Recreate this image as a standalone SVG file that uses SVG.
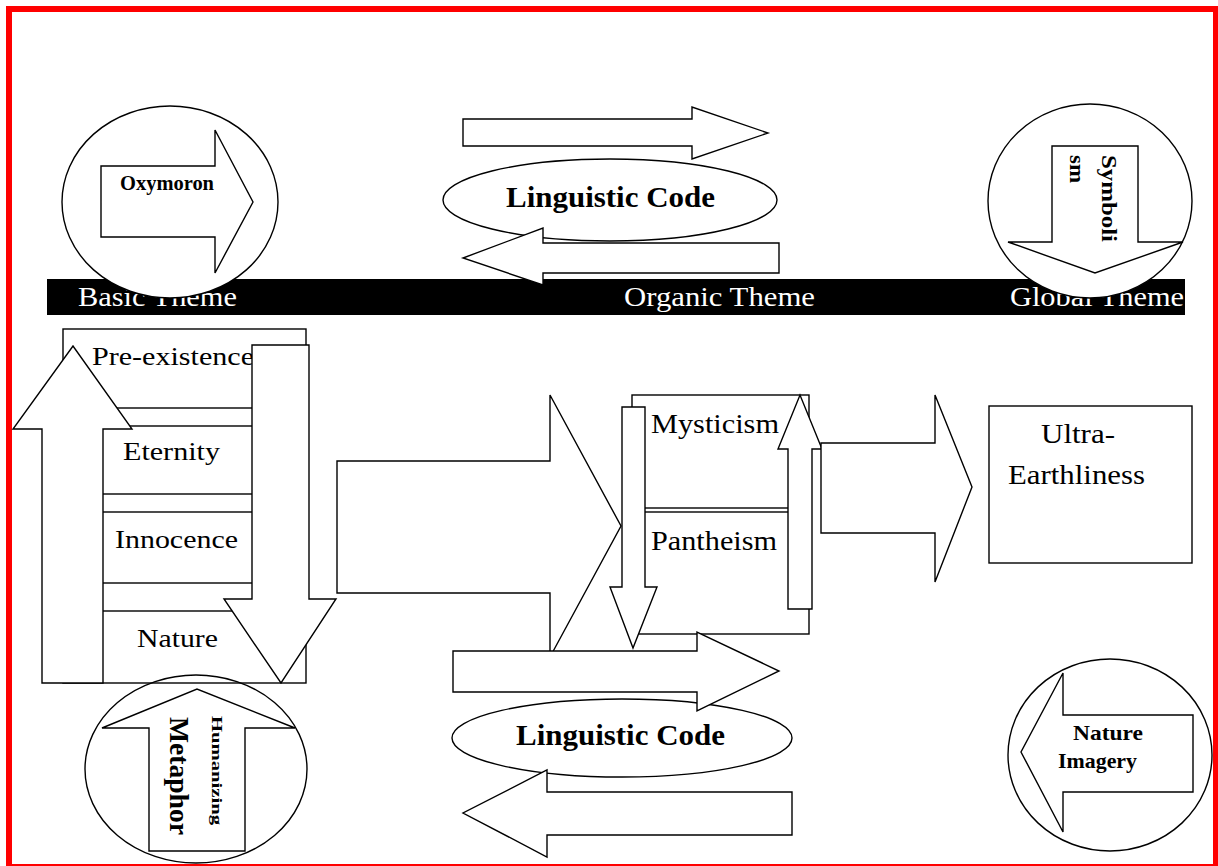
<svg xmlns="http://www.w3.org/2000/svg" width="1218" height="866" viewBox="0 0 1218 866">
<style>
.s{fill:#fff;stroke:#000;stroke-width:1.4}
.n{fill:none;stroke:#000;stroke-width:1.4}
.t{font-family:"Liberation Serif","Times New Roman",serif;fill:#000}
.b{font-weight:bold}
.w{fill:#fff}
</style>
<rect x="0" y="0" width="1218" height="866" fill="#fff"/>
<rect x="9" y="9" width="1207" height="858" fill="none" stroke="#f00" stroke-width="6"/>

<g id="theme-bar">
<rect x="47" y="279" width="1138" height="36" fill="#000"/>
<text class="t w" x="78" y="306" font-size="28" textLength="159" lengthAdjust="spacingAndGlyphs">Basic Theme</text>
<text class="t w" x="624" y="306" font-size="28" textLength="191" lengthAdjust="spacingAndGlyphs">Organic Theme</text>
<text class="t w" x="1010" y="306" font-size="28" textLength="174" lengthAdjust="spacingAndGlyphs">Global Theme</text>
</g>

<g id="oxymoron">
<ellipse class="s" cx="170" cy="202" rx="108" ry="96"/>
<path class="s" d="M101,166 H215 V130 L253,202 L215,273 V237 H101 Z"/>
<text class="t b" x="120" y="190" font-size="20" textLength="94" lengthAdjust="spacingAndGlyphs">Oxymoron</text>
</g>

<g id="symbolism">
<ellipse class="s" cx="1090" cy="201" rx="102" ry="97"/>
<path class="s" d="M1052,146 H1138 V242 H1183 L1095,273 L1008,242 H1052 Z"/>
<text class="t b" font-size="22" transform="translate(1102,155) rotate(90)"><tspan x="0" y="0" textLength="87" lengthAdjust="spacingAndGlyphs">Symboli</tspan><tspan x="0" y="32" textLength="28" lengthAdjust="spacingAndGlyphs">sm</tspan></text>
</g>

<g id="linguistic-code-top">
<ellipse class="s" cx="610" cy="200" rx="167" ry="41"/>
<text class="t b" x="506" y="207" font-size="30" textLength="209" lengthAdjust="spacingAndGlyphs">Linguistic Code</text>
</g>

<g id="connectors-top">
<path class="s" d="M463,119 H692 V107 L768,133 L692,159 V146 H463 Z"/>
<path class="s" d="M779,243 H543 V228 L463,258 L543,285 V273 H779 Z"/>
</g>

<g id="pre-existence">
<rect class="s" x="63" y="329" width="243" height="79"/>
<text class="t" x="92" y="365" font-size="26" textLength="162" lengthAdjust="spacingAndGlyphs">Pre-existence</text>
</g>
<g id="eternity">
<rect class="s" x="63" y="426" width="243" height="68"/>
<text class="t" x="123" y="460" font-size="26" textLength="97" lengthAdjust="spacingAndGlyphs">Eternity</text>
</g>
<g id="innocence">
<rect class="s" x="63" y="512" width="243" height="71"/>
<text class="t" x="115" y="548" font-size="26" textLength="123" lengthAdjust="spacingAndGlyphs">Innocence</text>
</g>
<g id="nature">
<rect class="s" x="63" y="611" width="243" height="72"/>
<text class="t" x="137" y="647" font-size="26" textLength="81" lengthAdjust="spacingAndGlyphs">Nature</text>
</g>

<g id="connectors-left">
<path class="s" d="M42,683 V429 H13 L73,346 L132,429 H103 V683 Z"/>
<path class="s" d="M252,345 H309 V599 H336 L281,683 L224,599 H252 Z"/>
<path class="s" d="M337,461 H550 V395 L621,526 L550,657 V593 H337 Z"/>
</g>

<g id="mysticism">
<rect class="s" x="632" y="395" width="177" height="113"/>
<text class="t" x="651" y="433" font-size="27" textLength="128" lengthAdjust="spacingAndGlyphs">Mysticism</text>
</g>
<g id="pantheism">
<rect class="s" x="632" y="512" width="177" height="122"/>
<text class="t" x="651" y="550" font-size="27" textLength="126" lengthAdjust="spacingAndGlyphs">Pantheism</text>
</g>

<g id="connectors-middle">
<path class="s" d="M622,407 H645 V587 H657 L633,648 L610,587 H622 Z"/>
<path class="s" d="M788,609 V449 H778 L800,395 L822,449 H812 V609 Z"/>
<path class="s" d="M821,443 H935 V395 L972,487 L935,582 V533 H821 Z"/>
</g>

<g id="ultra-earthliness">
<rect class="s" x="989" y="406" width="203" height="157"/>
<text class="t" x="1041" y="443" font-size="27" textLength="74" lengthAdjust="spacingAndGlyphs">Ultra-</text>
<text class="t" x="1008" y="484" font-size="27" textLength="137" lengthAdjust="spacingAndGlyphs">Earthliness</text>
</g>

<g id="linguistic-code-bottom">
<ellipse class="s" cx="622" cy="738" rx="170" ry="39"/>
<text class="t b" x="516" y="745" font-size="30" textLength="209" lengthAdjust="spacingAndGlyphs">Linguistic Code</text>
</g>

<g id="connectors-bottom">
<path class="s" d="M453,651 H697 V632 L779,671 L697,711 V692 H453 Z"/>
<path class="s" d="M792,792 H547 V770 L463,813 L547,857 V835 H792 Z"/>
</g>

<g id="humanizing-metaphor">
<ellipse class="n" cx="196" cy="769" rx="111" ry="94"/>
<path class="s" d="M149,851 V728 H102 L197,689 L295,728 H245 V851 Z"/>
<text class="t b" transform="translate(212,716) rotate(90)"><tspan x="0" y="0" font-size="15" textLength="109" lengthAdjust="spacingAndGlyphs">Humanizing</tspan><tspan x="1" y="42" font-size="28" textLength="118" lengthAdjust="spacingAndGlyphs">Metaphor</tspan></text>
</g>

<g id="nature-imagery">
<ellipse class="s" cx="1110" cy="755" rx="102" ry="96"/>
<path class="s" d="M1193,715 V792 H1063 V832 L1021,752 L1063,673 V715 Z"/>
<text class="t b" x="1073" y="740" font-size="21" textLength="70" lengthAdjust="spacingAndGlyphs">Nature</text>
<text class="t b" x="1058" y="768" font-size="21" textLength="79" lengthAdjust="spacingAndGlyphs">Imagery</text>
</g>
</svg>
